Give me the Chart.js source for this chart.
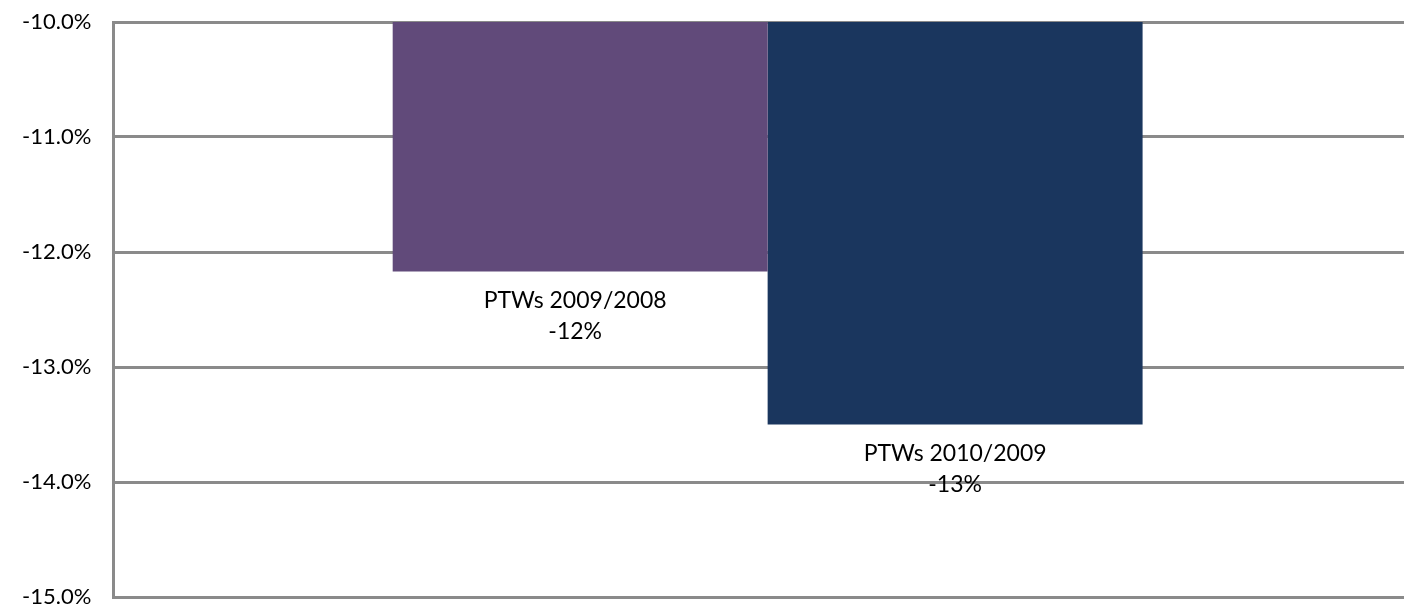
<!DOCTYPE html>
<html>
<head>
<meta charset="utf-8">
<script src="https://cdn.jsdelivr.net/npm/chart.js@4.4.1/dist/chart.umd.min.js"></script>
<style>
  html, body { margin: 0; padding: 0; background: #fff; overflow: hidden; }
  #wrap { position: relative; width: 1422px; height: 607px; }
</style>
</head>
<body>
<div id="wrap"><canvas id="chart"></canvas></div>
<script>
const categories = [''];
const seriesNames = ['PTWs 2009/2008', 'PTWs 2010/2009'];
const seriesValues = [-12.17, -13.5];
const seriesLabels = ['-12%', '-13%'];
const seriesColors = ['#614A7A', '#1A365E'];
const yTicks = [-10, -11, -12, -13, -14, -15];

const TEXT = '#000';
const GRID = '#8a8a8a';

// writes the two-line label under each bar
const barLabels = {
    id: 'barLabels',
    afterDatasetsDraw(chart) {
        const { ctx } = chart;
        ctx.save();
        ctx.font = '23px Lato';
        ctx.fillStyle = TEXT;
        ctx.textAlign = 'center';
        ctx.textBaseline = 'middle';
        chart.data.datasets.forEach((ds, i) => {
            const bar = chart.getDatasetMeta(i).data[0];
            if (!bar) return;
            const bottom = Math.max(bar.y, bar.base);
            const x = bar.x - (i === 0 ? 5 : 0);
            ctx.fillText(seriesNames[i], x, bottom + 29);
            ctx.fillText(seriesLabels[i], x, bottom + 60);
        });
        ctx.restore();
    },
};

new Chart(document.getElementById('chart'), {
    type: 'bar',
    data: {
        labels: categories,
        datasets: seriesNames.map((name, i) => ({
            label: name,
            data: [seriesValues[i]],
            backgroundColor: seriesColors[i],
            borderWidth: 0,
            categoryPercentage: 0.573,
            barPercentage: 1.0,
        })),
    },
    options: {
        responsive: true,
        maintainAspectRatio: false,
        animation: false,
        layout: { padding: { top: 22, bottom: 10, left: 0, right: 0 } },
        plugins: {
            legend: { display: false },
            tooltip: { enabled: false },
        },
        scales: {
            x: {
                display: false,
                grid: { display: false },
            },
            y: {
                min: -15,
                max: -10,
                afterBuildTicks(scale) {
                    scale.ticks = yTicks.map((v) => ({ value: v }));
                },
                afterFit(scale) {
                    scale.paddingTop = 0;
                    scale.paddingBottom = 0;
                },
                grid: {
                    color: GRID,
                    lineWidth: 3,
                    drawTicks: false,
                },
                border: { color: GRID, width: 3 },
                ticks: {
                    color: TEXT,
                    padding: 22,
                    font: { family: 'Lato', size: 22 },
                    callback: (v) => v.toFixed(1) + '%',
                },
            },
        },
    },
    plugins: [barLabels],
});
</script>
</body>
</html>
